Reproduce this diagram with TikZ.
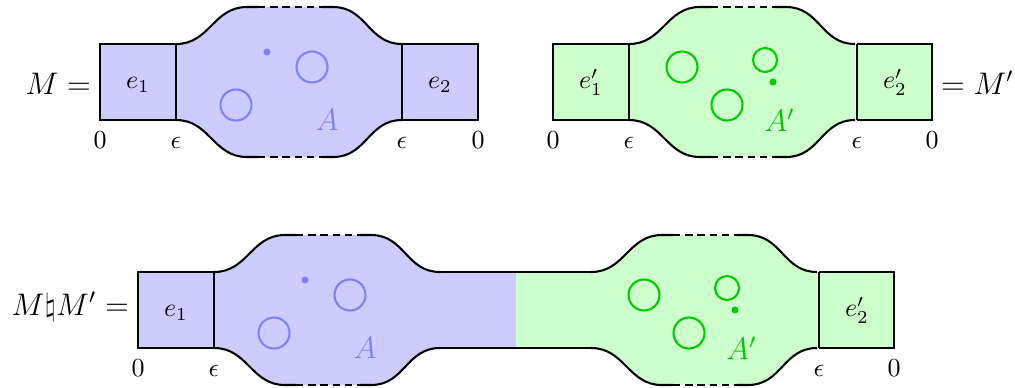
\documentclass[tikz,border=0pt]{standalone}
\begin{document}
\begin{tikzpicture}[x=0.01352cm,y=-0.01352cm,
	rim/.style={thick},
	seam/.style={thin},
	gap/.style={thick,dash pattern=on 2.8pt off 1.9pt},
	tick/.style={anchor=base,yshift=-10.8pt},
	elab/.style={anchor=base,yshift=-2.6pt},
	big/.style={font=\large}]
	\useasboundingbox (0,0) rectangle (1015,387);
	% fills
	\foreach \bx/\by/\col in {176/82/blue,629/82/green,214/310/blue,591/310/green}
		\fill[\col!20,shift={(\bx,\by)}] (0,-38) .. controls (34,-38) and (37,-75) .. (71,-75) -- (157,-75) .. controls (191,-75) and (192,-38) .. (226,-38) -- (226,38) .. controls (192,38) and (191,75) .. (157,75) -- (71,75) .. controls (37,75) and (34,38) .. (0,38) -- cycle;
	\fill[blue!20] (100,44) rectangle (176,120) (402,44) rectangle (478,120) (138,272) rectangle (214,348) (440,272) rectangle (516,348);
	\fill[green!20] (553,44) rectangle (629,120) (857,44) rectangle (932,120) (516,272) rectangle (591,348) (819,272) rectangle (894,348);
	% bulges
	\foreach \bx/\by in {176/82,629/82,214/310,591/310}{
		\begin{scope}[shift={(\bx,\by)}]
			\draw[rim] (82,-75) -- (71,-75) .. controls (37,-75) and (34,-38) .. (0,-38);
			\draw[rim] (146,-75) -- (157,-75) .. controls (191,-75) and (192,-38) .. (226,-38);
			\draw[rim] (82,75) -- (71,75) .. controls (37,75) and (34,38) .. (0,38);
			\draw[rim] (146,75) -- (157,75) .. controls (191,75) and (192,38) .. (226,38);
			\draw[gap] (82,-75) -- (146,-75) (82,75) -- (146,75);
		\end{scope}
	}
	% ends
	\draw[rim] (176,44) -- (100,44) -- (100,120) -- (176,120);
	\draw[rim] (402,44) -- (478,44) -- (478,120) -- (402,120);
	\draw[rim] (629,44) -- (553,44) -- (553,120) -- (629,120);
	\draw[rim] (857,44) -- (932,44) -- (932,120) -- (857,120);
	\draw[rim] (214,272) -- (138,272) -- (138,348) -- (214,348);
	\draw[rim] (440,272) -- (591,272) (440,348) -- (591,348);
	\draw[rim] (819,272) -- (894,272) -- (894,348) -- (819,348);
	\foreach \x/\y in {176/82,402/82,629/82,857/82,214/310,819/310}
		\draw[seam] (\x,\y-38) -- (\x,\y+38);
	% holes
	\foreach \bx/\by in {176/82,214/310}{
		\begin{scope}[shift={(\bx,\by)},blue!50]
			\draw[thick] (60,23) circle (15.5) (136,-15) circle (15.5);
			\fill (91,-30) circle (3.5);
			\node[big,anchor=base] (A\bx) at (151,48.5) {$A$};
		\end{scope}
	}
	\foreach \bx/\by in {629/82,591/310}{
		\begin{scope}[shift={(\bx,\by)},green!80!black]
			\draw[thick] (53,-15) circle (15.5) (98,23) circle (15.5) (136,-22) circle (12);
			\fill (144,0) circle (3.5);
			\node[big,anchor=base] (Ap\bx) at (150.5,49.7) {$A'$};
		\end{scope}
	}
	% labels
	\foreach \x/\y/\t in {138/82/e_1,440/82/e_2,591/82/e'_1,895/82/e'_2,176/310/e_1,857/310/e'_2}
		\node[elab] (e\x) at (\x,\y) {$\t$};
	\foreach \x/\y/\t in {100/120/0,176/120/\epsilon,402/120/\epsilon,478/120/0,553/120/0,629/120/\epsilon,857/120/\epsilon,932/120/0,138/348/0,214/348/\epsilon,819/348/\epsilon,894/348/0}
		\node[tick] (tk\x) at (\x,\y) {$\t$};
	\node[big,anchor=base east] (lhs) at (100,94) {$M =$};
	\node[big,anchor=base west] (rhs) at (932,94) {$= M'$};
	\node[big,anchor=base east] (sum) at (138,315) {$M\natural M' =$};
\end{tikzpicture}
\end{document}
